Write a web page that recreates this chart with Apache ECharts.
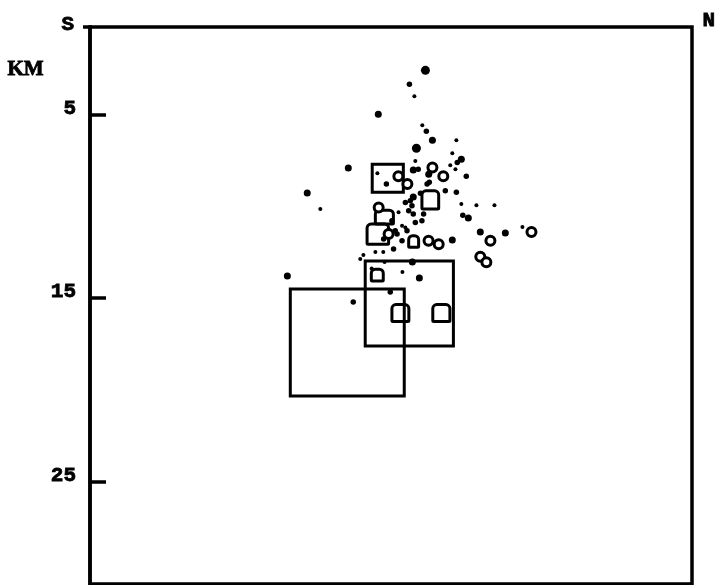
<!DOCTYPE html>
<html>
<head>
<meta charset="utf-8">
<script src="https://cdn.jsdelivr.net/npm/echarts@6/dist/echarts.min.js"></script>
<style>
html,body{margin:0;padding:0;background:#fff;}
#chart{width:719px;height:585px;}
</style>
</head>
<body>
<div id="chart"></div>
<script>
// Depth axis tick labels (km)
const depthTicks = [5, 15, 25];

// Hypocentres drawn as filled dots: [distance S->N (km), depth (km), magnitude class]
const quakeDots = [
  [18.32, 2.61, 4], [17.45, 3.37, 2], [17.72, 4.02, 1], [15.76, 5.00, 3],
  [18.15, 5.60, 1], [18.37, 5.92, 2], [18.70, 6.41, 3], [17.83, 6.85, 4],
  [20.00, 6.41, 1], [19.78, 7.12, 1], [20.27, 7.45, 3], [20.05, 7.62, 2],
  [19.67, 7.77, 1], [14.13, 7.93, 3], [11.90, 9.29, 3], [20.54, 8.37, 2],
  [17.66, 8.04, 3], [15.71, 8.21, 1], [16.20, 8.80, 2], [18.53, 8.70, 2],
  [20.00, 9.24, 2], [17.66, 9.51, 3], [20.27, 9.89, 1], [21.09, 9.95, 1],
  [22.07, 9.95, 1], [20.65, 10.65, 3], [20.35, 10.50, 2], [21.30, 11.41, 3],
  [22.66, 11.47, 3], [23.59, 11.14, 1], [19.78, 11.85, 3], [10.82, 13.80, 3],
  [14.40, 15.22, 2], [17.99, 13.91, 3], [17.07, 13.59, 1], [17.61, 13.04, 3],
  [14.95, 12.66, 1], [16.41, 14.67, 2], [12.61, 10.16, 1], [17.23, 9.80, 2],
  [17.41, 10.25, 2], [16.86, 10.34, 1], [16.50, 10.80, 2], [17.77, 10.89, 2],
  [17.23, 11.16, 1], [18.22, 10.43, 2], [17.77, 7.54, 1], [19.95, 7.99, 1],
  [14.78, 12.88, 1], [16.32, 11.34, 2], [16.78, 11.52, 2], [16.05, 11.79, 2],
  [17.05, 11.07, 1], [18.05, 9.30, 2], [18.41, 8.80, 2], [16.10, 13.04, 1],
  [15.40, 13.40, 1], [17.93, 7.99, 2], [19.40, 9.17, 2], [17.50, 9.71, 2],
  [17.59, 9.98, 2], [17.66, 10.43, 2], [18.13, 10.80, 2], [16.68, 11.34, 2],
  [17.32, 11.34, 2], [17.05, 11.89, 2], [16.59, 12.34, 2], [18.50, 8.26, 3],
  [15.60, 12.50, 1], [16.03, 12.50, 1]
];

// Hypocentres drawn as open rings: [distance (km), depth (km)]
const quakeRings = [
  [16.85, 8.37], [17.34, 8.80], [18.70, 7.90], [19.29, 8.37],
  [21.85, 11.89], [24.08, 11.41], [21.30, 12.76], [21.63, 13.06],
  [19.04, 12.07], [18.49, 11.89], [15.78, 10.07], [16.32, 11.52]
];

// Larger events drawn as squares: [x1, depth1, x2, depth2] (km)
const largeSquares = [
  [10.98, 14.51, 17.17, 20.33],
  [15.05, 12.99, 19.84, 17.61],
  [15.43, 7.72, 17.12, 9.24]
];
const smallSquares = [
  [16.50, 15.36, 17.42, 16.28],
  [18.72, 15.36, 19.65, 16.28],
  [15.38, 13.43, 16.03, 14.08],
  [15.15, 10.98, 16.32, 12.07],
  [15.60, 10.22, 16.58, 10.98],
  [18.13, 9.17, 19.04, 10.16],
  [17.41, 11.61, 17.95, 12.24]
];

const FONT = 'Liberation Mono';
const magSize = {1: 4, 2: 5.5, 3: 7, 4: 9};
const textStyle = {fontFamily: FONT, fontWeight: 'bold', fontSize: 21, fill: '#000',
  stroke: '#000', lineWidth: 0.8};

function squareRenderer(lineWidth, radius) {
  return function (params, api) {
    const p1 = api.coord([api.value(0), api.value(1)]);
    const p2 = api.coord([api.value(2), api.value(3)]);
    return {
      type: 'rect',
      shape: {
        x: Math.min(p1[0], p2[0]), y: Math.min(p1[1], p2[1]),
        width: Math.abs(p2[0] - p1[0]), height: Math.abs(p2[1] - p1[1]),
        r: radius
      },
      style: {fill: 'none', stroke: '#000', lineWidth: lineWidth}
    };
  };
}

const chart = echarts.init(document.getElementById('chart'), null, {renderer: 'canvas'});
chart.setOption({
  animation: false,
  backgroundColor: '#fff',
  grid: {
    left: 90, right: 27, top: 27, bottom: 1,
    show: true, borderColor: '#000', borderWidth: 3.5, backgroundColor: 'transparent'
  },
  xAxis: {
    type: 'value', min: 0.1, max: 32.8,
    axisLine: {show: false}, axisTick: {show: false}, axisLabel: {show: false},
    splitLine: {show: false}
  },
  yAxis: {
    type: 'value', inverse: true, min: 0.25, max: 30.57,
    axisLine: {show: true, lineStyle: {color: '#000', width: 3.5}},
    axisTick: {show: true, inside: true, length: 16, customValues: depthTicks,
      lineStyle: {color: '#000', width: 3.5}},
    axisLabel: {show: true, customValues: depthTicks, margin: 14, color: '#000',
      fontFamily: FONT, fontWeight: 'bold', fontSize: 21, verticalAlign: 'bottom',
      lineHeight: 12, textBorderColor: '#000', textBorderWidth: 0.8},
    splitLine: {show: false}
  },
  graphic: [
    {type: 'text', left: 61, top: 14, style: Object.assign({text: 'S'}, textStyle)},
    {type: 'text', left: 702, top: 10, style: Object.assign({text: 'N'}, textStyle)},
    {type: 'text', left: 7, top: 59, style: Object.assign({}, textStyle,
      {text: 'KM', fontFamily: 'Liberation Serif', fontSize: 21})},
    {type: 'line', shape: {x1: 83, y1: 27, x2: 92, y2: 27}, style: {stroke: '#000', lineWidth: 3.5}}
  ],
  series: [
    {
      type: 'custom', name: 'large', data: largeSquares,
      encode: {x: [0, 2], y: [1, 3]},
      renderItem: squareRenderer(3, 0), silent: true
    },
    {
      type: 'custom', name: 'small', data: smallSquares,
      encode: {x: [0, 2], y: [1, 3]},
      renderItem: squareRenderer(3, [4, 4, 1, 1]), silent: true
    },
    {
      type: 'scatter', name: 'dots', data: quakeDots,
      symbol: 'circle',
      symbolSize: function (v) { return magSize[v[2]]; },
      itemStyle: {color: '#000', opacity: 1}
    },
    {
      type: 'scatter', name: 'rings', data: quakeRings,
      symbol: 'circle', symbolSize: 9,
      itemStyle: {color: '#fff', borderColor: '#000', borderWidth: 3, opacity: 1}
    }
  ]
});
</script>
</body>
</html>
